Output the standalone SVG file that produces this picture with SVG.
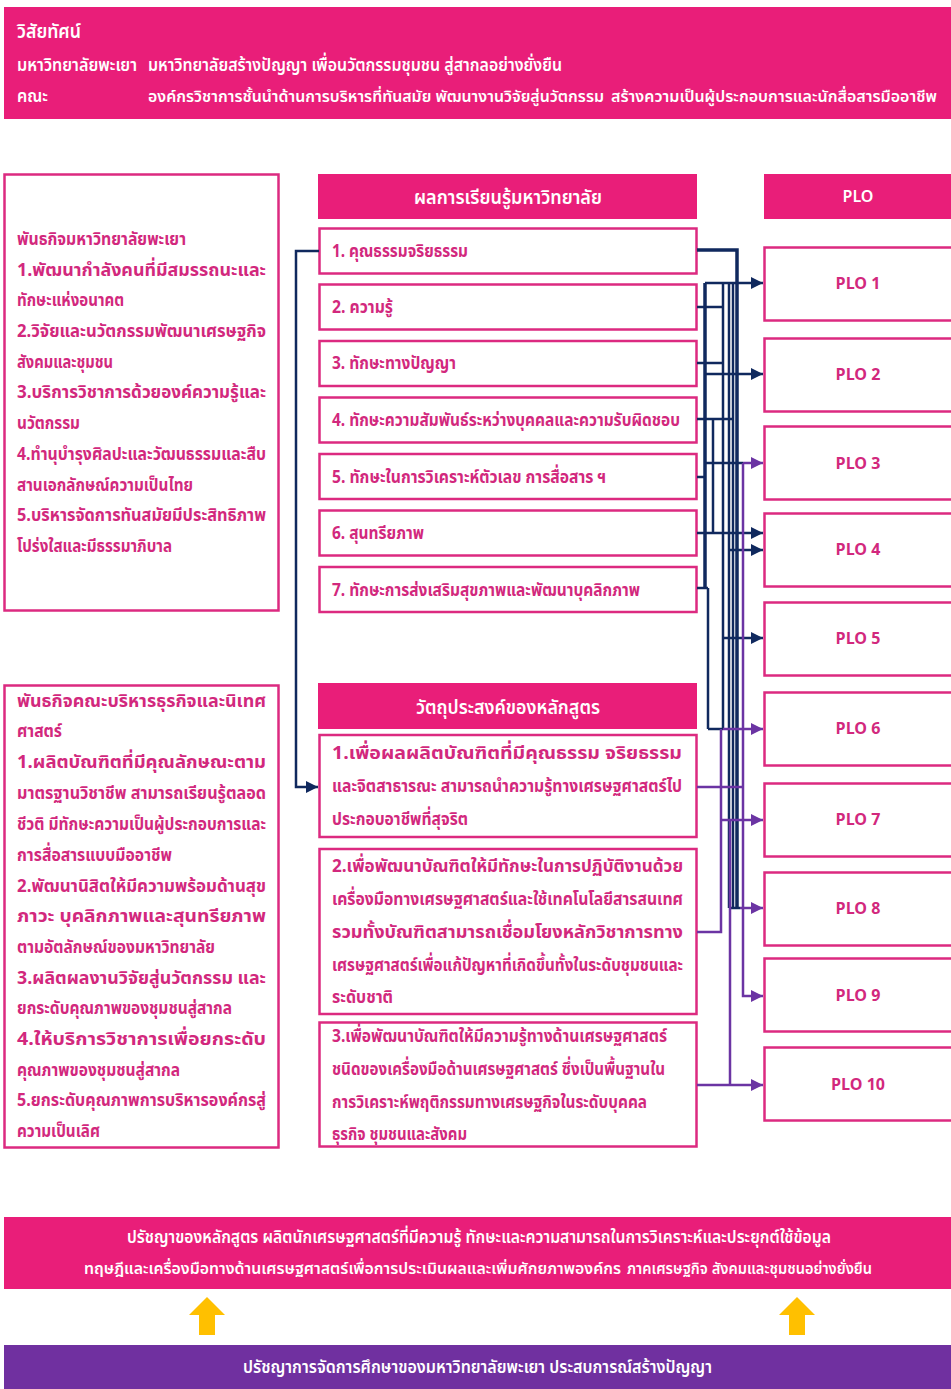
<svg xmlns="http://www.w3.org/2000/svg" width="951" height="1389" viewBox="0 0 951 1389">
<defs>
<style>
.fill{fill:#E91E79}
.box{fill:#fff;stroke:#DC2A80;stroke-width:2.5}
.t{font-family:"Noto Sans Thai","Noto Sans","Liberation Sans",sans-serif;font-weight:700;font-size:18px;fill:#D2287D}
.w{fill:#fff;font-weight:600}
.c{text-anchor:middle}
.p{font-size:16px}
.nv{stroke:#10295E;fill:none;stroke-width:2.5}
.nvb{stroke:#10295E;fill:none;stroke-width:3.5}
.pp{stroke:#6B34A3;fill:none;stroke-width:2.5}
</style>
<marker id="an" viewBox="0 0 10 10" refX="10" refY="5" markerWidth="12" markerHeight="12" markerUnits="userSpaceOnUse" orient="auto"><path d="M0,0 L10,5 L0,10 z" fill="#10295E"/></marker>
<marker id="ap" viewBox="0 0 10 10" refX="10" refY="5" markerWidth="12" markerHeight="12" markerUnits="userSpaceOnUse" orient="auto"><path d="M0,0 L10,5 L0,10 z" fill="#6B34A3"/></marker>
</defs>
<rect width="951" height="1389" fill="#fff"/>

<g id="vision">
<rect class="fill" x="4" y="7" width="947" height="112"/>
<text class="t w" x="17" y="38" style="font-size:19px" textLength="64" lengthAdjust="spacingAndGlyphs">วิสัยทัศน์</text>
<text class="t w" x="17" y="71" textLength="120" lengthAdjust="spacingAndGlyphs">มหาวิทยาลัยพะเยา</text>
<text class="t w" x="148" y="71" textLength="414" lengthAdjust="spacingAndGlyphs">มหาวิทยาลัยสร้างปัญญา เพื่อนวัตกรรมชุมชน สู่สากลอย่างยั่งยืน</text>
<text class="t w" x="17" y="102" textLength="31" lengthAdjust="spacingAndGlyphs">คณะ</text>
<text class="t w" x="148" y="102" style="font-size:15.5px" textLength="456" lengthAdjust="spacingAndGlyphs">องค์กรวิชาการชั้นนำด้านการบริหารที่ทันสมัย พัฒนางานวิจัยสู่นวัตกรรม</text>
<text class="t w" x="611" y="102" style="font-size:15.5px" textLength="326" lengthAdjust="spacingAndGlyphs">สร้างความเป็นผู้ประกอบการและนักสื่อสารมืออาชีพ</text>
</g>

<g id="mission-university">
<rect class="box" x="4.5" y="174.5" width="274" height="436"/>
<text class="t" x="17" y="245" textLength="169" lengthAdjust="spacingAndGlyphs">พันธกิจมหาวิทยาลัยพะเยา</text>
<text class="t" x="17" y="276" textLength="249" lengthAdjust="spacingAndGlyphs">1.พัฒนากำลังคนที่มีสมรรถนะและ</text>
<text class="t" x="17" y="306" textLength="107" lengthAdjust="spacingAndGlyphs">ทักษะแห่งอนาคต</text>
<text class="t" x="17" y="337" textLength="249" lengthAdjust="spacingAndGlyphs">2.วิจัยและนวัตกรรมพัฒนาเศรษฐกิจ</text>
<text class="t" x="17" y="368" textLength="96" lengthAdjust="spacingAndGlyphs">สังคมและชุมชน</text>
<text class="t" x="17" y="398" textLength="249" lengthAdjust="spacingAndGlyphs">3.บริการวิชาการด้วยองค์ความรู้และ</text>
<text class="t" x="17" y="429" textLength="63" lengthAdjust="spacingAndGlyphs">นวัตกรรม</text>
<text class="t" x="17" y="460" textLength="249" lengthAdjust="spacingAndGlyphs">4.ทำนุบำรุงศิลปะและวัฒนธรรมและสืบ</text>
<text class="t" x="17" y="491" textLength="176" lengthAdjust="spacingAndGlyphs">สานเอกลักษณ์ความเป็นไทย</text>
<text class="t" x="17" y="521" textLength="249" lengthAdjust="spacingAndGlyphs">5.บริหารจัดการทันสมัยมีประสิทธิภาพ</text>
<text class="t" x="17" y="552" textLength="155" lengthAdjust="spacingAndGlyphs">โปร่งใสและมีธรรมาภิบาล</text>
</g>

<g id="mission-faculty">
<rect class="box" x="4.5" y="685.5" width="274" height="462"/>
<text class="t" x="17" y="707" textLength="249" lengthAdjust="spacingAndGlyphs">พันธกิจคณะบริหารธุรกิจและนิเทศ</text>
<text class="t" x="17" y="737" textLength="45" lengthAdjust="spacingAndGlyphs">ศาสตร์</text>
<text class="t" x="17" y="768" textLength="249" lengthAdjust="spacingAndGlyphs">1.ผลิตบัณฑิตที่มีคุณลักษณะตาม</text>
<text class="t" x="17" y="799" textLength="249" lengthAdjust="spacingAndGlyphs">มาตรฐานวิชาชีพ สามารถเรียนรู้ตลอด</text>
<text class="t" x="17" y="830" textLength="249" lengthAdjust="spacingAndGlyphs">ชีวติ มีทักษะความเป็นผู้ประกอบการและ</text>
<text class="t" x="17" y="861" textLength="155" lengthAdjust="spacingAndGlyphs">การสื่อสารแบบมืออาชีพ</text>
<text class="t" x="17" y="892" textLength="249" lengthAdjust="spacingAndGlyphs">2.พัฒนานิสิตให้มีความพร้อมด้านสุข</text>
<text class="t" x="17" y="922" textLength="249" lengthAdjust="spacingAndGlyphs">ภาวะ บุคลิกภาพและสุนทรียภาพ</text>
<text class="t" x="17" y="953" textLength="198" lengthAdjust="spacingAndGlyphs">ตามอัตลักษณ์ของมหาวิทยาลัย</text>
<text class="t" x="17" y="984" textLength="249" lengthAdjust="spacingAndGlyphs">3.ผลิตผลงานวิจัยสู่นวัตกรรม และ</text>
<text class="t" x="17" y="1014" textLength="215" lengthAdjust="spacingAndGlyphs">ยกระดับคุณภาพของชุมชนสู่สากล</text>
<text class="t" x="17" y="1045" textLength="249" lengthAdjust="spacingAndGlyphs">4.ให้บริการวิชาการเพื่อยกระดับ</text>
<text class="t" x="17" y="1076" textLength="163" lengthAdjust="spacingAndGlyphs">คุณภาพของชุมชนสู่สากล</text>
<text class="t" x="17" y="1106" textLength="249" lengthAdjust="spacingAndGlyphs">5.ยกระดับคุณภาพการบริหารองค์กรสู่</text>
<text class="t" x="17" y="1137" textLength="83" lengthAdjust="spacingAndGlyphs">ความเป็นเลิศ</text>
</g>

<g id="lo-header">
<rect class="fill" x="318" y="174" width="379" height="45"/>
<text class="t w" x="414" y="204" style="font-size:20px" textLength="188" lengthAdjust="spacingAndGlyphs">ผลการเรียนรู้มหาวิทยาลัย</text>
</g>
<g id="lo1"><rect class="box" x="319.5" y="228.5" width="377" height="45"/><text class="t" x="332" y="257" textLength="136" lengthAdjust="spacingAndGlyphs">1. คุณธรรมจริยธรรม</text></g>
<g id="lo2"><rect class="box" x="319.5" y="284.5" width="377" height="45"/><text class="t" x="332" y="313" textLength="61" lengthAdjust="spacingAndGlyphs">2. ความรู้</text></g>
<g id="lo3"><rect class="box" x="319.5" y="341" width="377" height="45"/><text class="t" x="332" y="369" textLength="124" lengthAdjust="spacingAndGlyphs">3. ทักษะทางปัญญา</text></g>
<g id="lo4"><rect class="box" x="319.5" y="397.5" width="377" height="45"/><text class="t" x="332" y="426" textLength="348" lengthAdjust="spacingAndGlyphs">4. ทักษะความสัมพันธ์ระหว่างบุคคลและความรับผิดชอบ</text></g>
<g id="lo5"><rect class="box" x="319.5" y="454" width="377" height="45"/><text class="t" x="332" y="483" textLength="274" lengthAdjust="spacingAndGlyphs">5. ทักษะในการวิเคราะห์ตัวเลข การสื่อสาร ฯ</text></g>
<g id="lo6"><rect class="box" x="319.5" y="510.5" width="377" height="45"/><text class="t" x="332" y="539" textLength="92" lengthAdjust="spacingAndGlyphs">6. สุนทรียภาพ</text></g>
<g id="lo7"><rect class="box" x="319.5" y="567" width="377" height="45"/><text class="t" x="332" y="596" textLength="308" lengthAdjust="spacingAndGlyphs">7. ทักษะการส่งเสริมสุขภาพและพัฒนาบุคลิกภาพ</text></g>

<g id="obj-header">
<rect class="fill" x="318" y="683" width="379" height="46"/>
<text class="t w" x="416" y="714" style="font-size:20px" textLength="184" lengthAdjust="spacingAndGlyphs">วัตถุประสงค์ของหลักสูตร</text>
</g>
<g id="obj1"><rect class="box" x="319.5" y="735" width="377" height="102"/>
<text class="t" x="332" y="759" textLength="350" lengthAdjust="spacingAndGlyphs">1.เพื่อผลผลิตบัณฑิตที่มีคุณธรรม จริยธรรม</text>
<text class="t" x="332" y="792" textLength="350" lengthAdjust="spacingAndGlyphs">และจิตสาธารณะ สามารถนำความรู้ทางเศรษฐศาสตร์ไป</text>
<text class="t" x="332" y="825" textLength="136" lengthAdjust="spacingAndGlyphs">ประกอบอาชีพที่สุจริต</text></g>
<g id="obj2"><rect class="box" x="319.5" y="849" width="377" height="165"/>
<text class="t" x="332" y="872" textLength="351" lengthAdjust="spacingAndGlyphs">2.เพื่อพัฒนาบัณฑิตให้มีทักษะในการปฏิบัติงานด้วย</text>
<text class="t" x="332" y="905" textLength="351" lengthAdjust="spacingAndGlyphs">เครื่องมือทางเศรษฐศาสตร์และใช้เทคโนโลยีสารสนเทศ</text>
<text class="t" x="332" y="938" textLength="351" lengthAdjust="spacingAndGlyphs">รวมทั้งบัณฑิตสามารถเชื่อมโยงหลักวิชาการทาง</text>
<text class="t" x="332" y="971" textLength="351" lengthAdjust="spacingAndGlyphs">เศรษฐศาสตร์เพื่อแก้ปัญหาที่เกิดขึ้นทั้งในระดับชุมชนและ</text>
<text class="t" x="332" y="1003" textLength="61" lengthAdjust="spacingAndGlyphs">ระดับชาติ</text></g>
<g id="obj3"><rect class="box" x="319.5" y="1022.5" width="377" height="124"/>
<text class="t" x="332" y="1042" textLength="335" lengthAdjust="spacingAndGlyphs">3.เพื่อพัฒนาบัณฑิตให้มีความรู้ทางด้านเศรษฐศาสตร์</text>
<text class="t" x="332" y="1075" textLength="333" lengthAdjust="spacingAndGlyphs">ชนิดของเครื่องมือด้านเศรษฐศาสตร์ ซึ่งเป็นพื้นฐานใน</text>
<text class="t" x="332" y="1108" textLength="315" lengthAdjust="spacingAndGlyphs">การวิเคราะห์พฤติกรรมทางเศรษฐกิจในระดับบุคคล</text>
<text class="t" x="332" y="1140" textLength="135" lengthAdjust="spacingAndGlyphs">ธุรกิจ ชุมชนและสังคม</text></g>

<g id="plo-header"><rect class="fill" x="764" y="174" width="190" height="45"/><text class="t w c p" x="858" y="202">PLO</text></g>
<g id="plo1"><rect class="box" x="764.5" y="247.5" width="200" height="73"/><text class="t c p" x="858" y="289">PLO 1</text></g>
<g id="plo2"><rect class="box" x="764.5" y="338.5" width="200" height="73"/><text class="t c p" x="858" y="380">PLO 2</text></g>
<g id="plo3"><rect class="box" x="764.5" y="426.5" width="200" height="73"/><text class="t c p" x="858" y="469">PLO 3</text></g>
<g id="plo4"><rect class="box" x="764.5" y="513.5" width="200" height="73"/><text class="t c p" x="858" y="555">PLO 4</text></g>
<g id="plo5"><rect class="box" x="764.5" y="602.5" width="200" height="73"/><text class="t c p" x="858" y="644">PLO 5</text></g>
<g id="plo6"><rect class="box" x="764.5" y="692.5" width="200" height="73"/><text class="t c p" x="858" y="734">PLO 6</text></g>
<g id="plo7"><rect class="box" x="764.5" y="783.5" width="200" height="73"/><text class="t c p" x="858" y="825">PLO 7</text></g>
<g id="plo8"><rect class="box" x="764.5" y="872.5" width="200" height="73"/><text class="t c p" x="858" y="914">PLO 8</text></g>
<g id="plo9"><rect class="box" x="764.5" y="958.5" width="200" height="73"/><text class="t c p" x="858" y="1001">PLO 9</text></g>
<g id="plo10"><rect class="box" x="764.5" y="1047.5" width="200" height="73"/><text class="t c p" x="858" y="1090">PLO 10</text></g>

<g id="connectors">
<path class="nv" d="M319,251 H296 V787 H318" marker-end="url(#an)"/>
<path class="nvb" d="M697,250 H737 V908"/>
<path class="nvb" d="M705,283 V588"/>
<path class="nv" d="M708,588 V729"/>
<path class="nv" d="M713,419 V533"/>
<path class="nv" d="M723,283 V729"/>
<path class="nv" d="M729,283 V908"/>
<path class="nv" d="M733,283 V908"/>
<path class="nv" d="M697,307 H723"/>
<path class="nv" d="M697,363 H723"/>
<path class="nv" d="M697,419 H733"/>
<path class="nv" d="M697,477 H705"/>
<path class="nv" d="M697,588 H708"/>
<path class="nv" d="M705,283 H763" marker-end="url(#an)"/>
<path class="nv" d="M705,374 H763" marker-end="url(#an)"/>
<path class="nv" d="M705,463 H743"/>
<path class="nv" d="M697,533 H763" marker-end="url(#an)"/>
<path class="nv" d="M729,550 H763" marker-end="url(#an)"/>
<path class="nv" d="M723,638 H763" marker-end="url(#an)"/>
<path class="nv" d="M708,729 H723"/>
<path class="nv" d="M729,908 H740"/>
<path class="pp" d="M743,463 H763" marker-end="url(#ap)"/>
<path class="pp" d="M723,729 H763" marker-end="url(#ap)"/>
<path class="pp" d="M743,463 V996 H763" marker-end="url(#ap)"/>
<path class="pp" d="M697,787 H743"/>
<path class="pp" d="M721,729 V932 H697"/>
<path class="pp" d="M721,820 H763" marker-end="url(#ap)"/>
<path class="pp" d="M730,820 V1085"/>
<path class="pp" d="M697,1085 H763" marker-end="url(#ap)"/>
<path class="pp" d="M740,908 H763" marker-end="url(#ap)"/>
</g>

<g id="philosophy">
<rect class="fill" x="4" y="1217" width="947" height="72"/>
<text class="t w" x="127" y="1243" style="font-size:17px" textLength="704" lengthAdjust="spacingAndGlyphs">ปรัชญาของหลักสูตร ผลิตนักเศรษฐศาสตร์ที่มีความรู้ ทักษะและความสามารถในการวิเคราะห์และประยุกต์ใช้ข้อมูล</text>
<text class="t w" x="84" y="1274" style="font-size:15.5px" textLength="537" lengthAdjust="spacingAndGlyphs">ทฤษฎีและเครื่องมือทางด้านเศรษฐศาสตร์เพื่อการประเมินผลและเพิ่มศักยภาพองค์กร</text>
<text class="t w" x="627" y="1274" style="font-size:15.5px" textLength="245" lengthAdjust="spacingAndGlyphs">ภาคเศรษฐกิจ สังคมและชุมชนอย่างยั่งยืน</text>
</g>
<g id="arrow-left"><path d="M189,1315 L207,1297 L225,1315 H215 V1335 H199 V1315 Z" fill="#FFC000"/></g>
<g id="arrow-right"><path d="M779,1315 L797,1297 L815,1315 H805 V1335 H789 V1315 Z" fill="#FFC000"/></g>
<g id="edu-philosophy">
<rect x="4" y="1345" width="947" height="44" fill="#7030A0"/>
<text class="t w" x="243" y="1373" textLength="469" lengthAdjust="spacingAndGlyphs">ปรัชญาการจัดการศึกษาของมหาวิทยาลัยพะเยา ประสบการณ์สร้างปัญญา</text>
</g>
</svg>
